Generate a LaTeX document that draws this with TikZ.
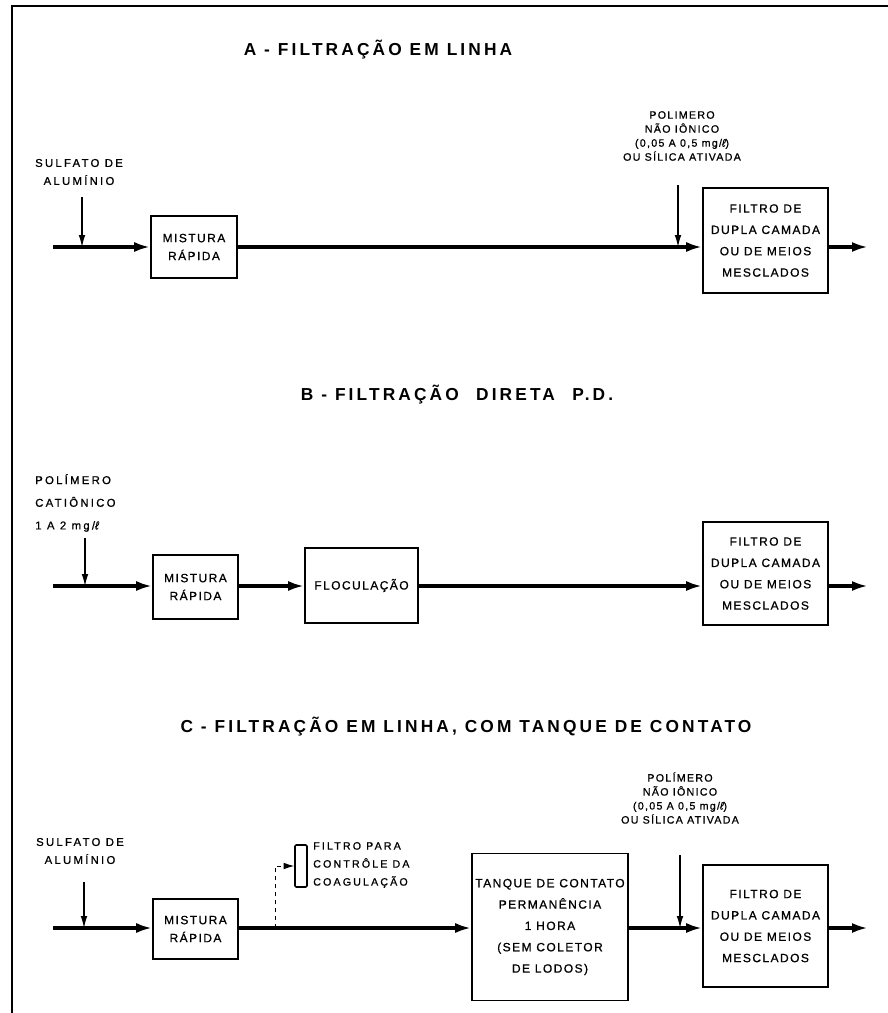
\documentclass[tikz,border=0pt]{standalone}
\usepackage{fontspec}
\setmainfont{Liberation Sans}
\newfontfamily\lbl{Liberation Sans}[LetterSpace=12, FakeBold=0.8]
\newfontfamily\lblw{Liberation Sans}[LetterSpace=20, FakeBold=0.8]
\newfontfamily\ttl{Liberation Sans}[LetterSpace=18]
\usetikzlibrary{arrows.meta}
\tikzset{
  box/.style={draw, line width=1.2pt, inner sep=0pt, align=center,
    font=\lbl\fontsize{9pt}{16pt}\selectfont},
  flow/.style={line width=2.9pt, -{Latex[length=12pt,width=7.5pt]}},
  dose/.style={line width=0.8pt, -{Latex[length=9pt,width=5pt]}},
  ttlstyle/.style={font=\ttl\bfseries\fontsize{13pt}{16pt}\selectfont, inner sep=0pt},
  lab/.style={font=\lbl\fontsize{8pt}{10.5pt}\selectfont, align=center, inner sep=0pt},
  labw/.style={font=\lblw\fontsize{8.5pt}{13.5pt}\selectfont, align=center, inner sep=0pt},
}
\begin{document}
\begin{tikzpicture}[x=0.75pt,y=-0.75pt]
\useasboundingbox (0,0) rectangle (888,1013);
% frame
\draw[line width=1.5pt] (12,1013) -- (12,6) -- (888,6);

% ---------------- A ----------------
\node[ttlstyle] (tA) at (378,50) {A - FILTRAÇÃO EM LINHA};
\coordinate (rowA) at (53,247);
\coordinate (outA) at (868,247);
\node[labw] (sulfA) at (79,172) {SULFATO DE\\ALUMÍNIO};
\coordinate (sA) at (82,197);
\node[box, minimum width=64.5pt, minimum height=46.5pt, font=\lbl\fontsize{9pt}{13.5pt}\selectfont] (mixA) at (194,247) {MISTURA\\RÁPIDA};
\node[box, minimum width=93.75pt, minimum height=78.75pt] (filtA) at (765.5,240.5) {FILTRO DE\\DUPLA CAMADA\\OU DE MEIOS\\MESCLADOS};
\node[lab] (polA) at (682,136) {POLIMERO\\NÃO IÔNICO\\(0,05 A 0,5 mg/{\itshape ℓ})\\OU SÍLICA ATIVADA};
\coordinate (dA) at (678,185);
\draw[flow] (rowA) -- (rowA -| mixA.west);
\draw[flow] (mixA.east |- rowA) -- (filtA.west |- rowA);
\draw[flow] (filtA.east |- rowA) -- (outA);
\draw[dose] (sA) -- (sA |- rowA);
\draw[dose] (dA) -- (dA |- rowA);

% ---------------- B ----------------
\node[ttlstyle] (tB) at (457,395) {B - FILTRAÇÃO\quad DIRETA\quad P.D.};
\coordinate (rowB) at (53,586);
\coordinate (outB) at (868,586);
\node[labw, align=left, anchor=west, font=\lblw\fontsize{8.5pt}{17pt}\selectfont] (polB) at (35,503) {POLÍMERO\\CATIÔNICO\\1 A 2 mg/{\itshape ℓ}};
\coordinate (sB) at (85,538);
\node[box, minimum width=63.75pt, minimum height=48pt, font=\lbl\fontsize{9pt}{13.5pt}\selectfont] (mixB) at (195.5,587) {MISTURA\\RÁPIDA};
\node[box, minimum width=84.75pt, minimum height=56.25pt] (flocB) at (361.5,585.5) {FLOCULAÇÃO};
\node[box, minimum width=93.75pt, minimum height=77.25pt] (filtB) at (765.5,573.5) {FILTRO DE\\DUPLA CAMADA\\OU DE MEIOS\\MESCLADOS};
\draw[flow] (rowB) -- (rowB -| mixB.west);
\draw[flow] (mixB.east |- rowB) -- (flocB.west |- rowB);
\draw[flow] (flocB.east |- rowB) -- (filtB.west |- rowB);
\draw[flow] (filtB.east |- rowB) -- (outB);
\draw[dose] (sB) -- (sB |- rowB);

% ---------------- C ----------------
\node[ttlstyle] (tC) at (466,727) {C - FILTRAÇÃO EM LINHA, COM TANQUE DE CONTATO};
\coordinate (rowC) at (53,928);
\coordinate (outC) at (868,928);
\node[labw] (sulfC) at (80,851) {SULFATO DE\\ALUMÍNIO};
\coordinate (sC) at (84,882);
\node[box, minimum width=63.75pt, minimum height=45pt, font=\lbl\fontsize{9pt}{13.5pt}\selectfont] (mixC) at (195.5,929) {MISTURA\\RÁPIDA};
\node[draw, line width=1.2pt, rounded corners=1pt, minimum width=9pt, minimum height=31.5pt, inner sep=0pt] (sf) at (301,866) {};
\node[labw, align=left, anchor=west, font=\lblw\fontsize{8pt}{13.5pt}\selectfont] (sfl) at (313,865) {FILTRO PARA\\CONTRÔLE DA\\COAGULAÇÃO};
\coordinate (dc) at (275,928);
\node[box, minimum width=117pt, minimum height=110.25pt] (tank) at (550,927) {TANQUE DE CONTATO\\PERMANÊNCIA\\1 HORA\\(SEM COLETOR\\DE LODOS)};
\node[box, minimum width=93.75pt, minimum height=91.5pt] (filtC) at (765.5,926) {FILTRO DE\\DUPLA CAMADA\\OU DE MEIOS\\MESCLADOS};
\node[lab] (polC) at (680,798) {POLÍMERO\\NÃO IÔNICO\\(0,05 A 0,5 mg/{\itshape ℓ})\\OU SÍLICA ATIVADA};
\coordinate (dC) at (680,855);
\draw[flow] (rowC) -- (rowC -| mixC.west);
\draw[flow] (mixC.east |- rowC) -- (tank.west |- rowC);
\draw[flow] (tank.east |- rowC) -- (filtC.west |- rowC);
\draw[flow] (filtC.east |- rowC) -- (outC);
\draw[dose] (sC) -- (sC |- rowC);
\draw[dose] (dC) -- (dC |- rowC);
\draw[line width=0.7pt, dashed, -{Latex[length=8pt,width=5pt]}] (dc) |- (sf.west);
\end{tikzpicture}
\end{document}
